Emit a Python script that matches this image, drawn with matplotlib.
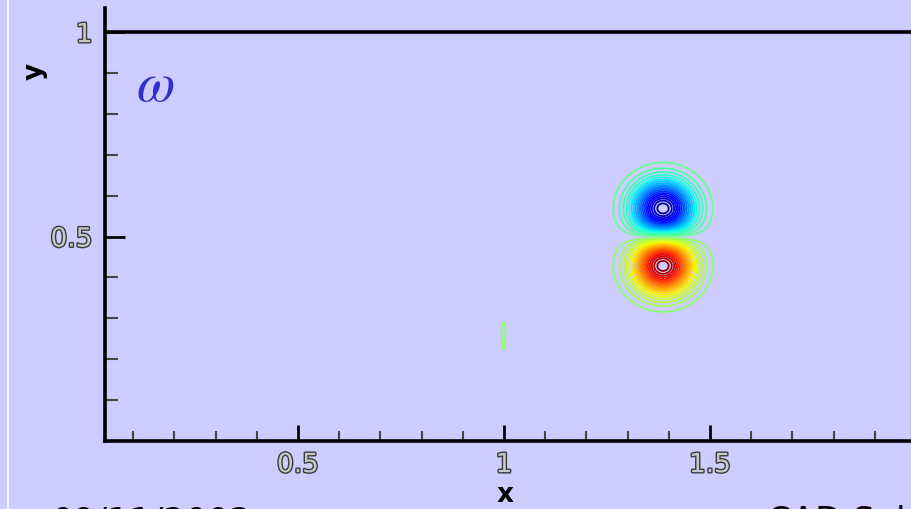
import numpy as np
import matplotlib.pyplot as plt
import matplotlib.patheffects as pe
from matplotlib.lines import Line2D

# vortex blobs making up the vorticity field (centre, strength, widths)
blob_x = [1.386, 1.386, 0.999, 0.999]
blob_y = [0.567, 0.430, 0.276, 0.241]
blob_strength = [-1.0, 1.0, 0.062, 0.062]
blob_sx = [0.070, 0.070, 0.006, 0.006]
blob_sy = [0.066, 0.066, 0.023, 0.037]

x_major = [0.5, 1.0, 1.5]
x_major_labels = ['0.5', '1', '1.5']
x_minor = [0.1, 0.2, 0.3, 0.4, 0.6, 0.7, 0.8, 0.9, 1.1, 1.2, 1.3, 1.4, 1.6, 1.7, 1.8, 1.9]
y_major = [0.5, 1.0]
y_major_labels = ['0.5', '1']
y_minor = [0.1, 0.2, 0.3, 0.4, 0.6, 0.7, 0.8, 0.9]

bg = '#ccccff'
W, H = 912, 509

plt.rcParams['mathtext.fontset'] = 'stix'

fig = plt.figure(figsize=(W / 100, H / 100), dpi=100, facecolor=bg)
ax = fig.add_axes([105 / W, (H - 441) / H, 806 / W, 433 / H], facecolor=bg)

# field
gx = np.linspace(0.0, 2.0, 2001)
gy = np.linspace(0.0, 1.1, 1101)
X, Y = np.meshgrid(gx, gy)
Z = np.zeros_like(X)
for bx, by, s, sx, sy in zip(blob_x, blob_y, blob_strength, blob_sx, blob_sy):
    Z += s * np.exp(-((X - bx) / sx) ** 2 - ((Y - by) / sy) ** 2)

pos = np.linspace(0.05, 0.95, 19)
levels = np.concatenate([-pos[::-1], pos])
ax.contour(X, Y, Z, levels=levels, cmap='jet', vmin=-1, vmax=1, linewidths=1.3)

ax.axhline(1.0, color='black', lw=2.6, zorder=5)

ax.set_xlim(0.0316, 1.988)
ax.set_ylim(0, 1.059)

for side in ['left', 'bottom']:
    ax.spines[side].set_linewidth(2.6)
    ax.spines[side].set_color('black')
ax.spines['top'].set_visible(False)
ax.spines['right'].set_color('#8888aa')
ax.spines['right'].set_linewidth(1.0)
ax.spines['right'].set_bounds(0, 1)

ax.set_xticks(x_major)
ax.set_xticklabels(x_major_labels)
ax.set_xticks(x_minor, minor=True)
ax.set_yticks(y_major)
ax.set_yticklabels(y_major_labels)
ax.set_yticks(y_minor, minor=True)

ax.tick_params(axis='x', which='major', direction='in', length=11.5, width=2, color='black', pad=8)
ax.tick_params(axis='x', which='minor', direction='in', length=7, width=1.5, color='#444444')
ax.tick_params(axis='y', which='major', direction='in', length=14.5, width=2, color='black', pad=9)
ax.tick_params(axis='y', which='minor', direction='in', length=9, width=1.5, color='#444444')

outline = [pe.withStroke(linewidth=2, foreground='#3a3a3a')]
for lab in ax.get_xticklabels() + ax.get_yticklabels():
    lab.set_fontsize(19)
    lab.set_color('#c8c8c8')
    lab.set_path_effects(outline)

# labels
fig.text(505 / W, 1 - 495 / H, 'x', fontsize=19, fontweight='bold', ha='center', va='center')
fig.text(35 / W, 1 - 71 / H, 'y', fontsize=19, fontweight='bold', rotation=90, ha='center', va='center')
fig.text(155 / W, 1 - 86 / H, r'$\omega$', fontsize=40, color='#3030cc', ha='center', va='center')

# slide footer, cut off by the edge
fig.text(52 / W, (H - 532) / H, '09/11/2002', fontsize=25, color='black', ha='left', va='baseline')
fig.text(767 / W, (H - 532) / H, 'CAD Sol', fontsize=25, color='black', ha='left', va='baseline')

fig.add_artist(Line2D([8.5 / W, 8.5 / W], [0, 1], color='white', lw=1.2))

plt.savefig('out.png', dpi=100, facecolor=bg)
